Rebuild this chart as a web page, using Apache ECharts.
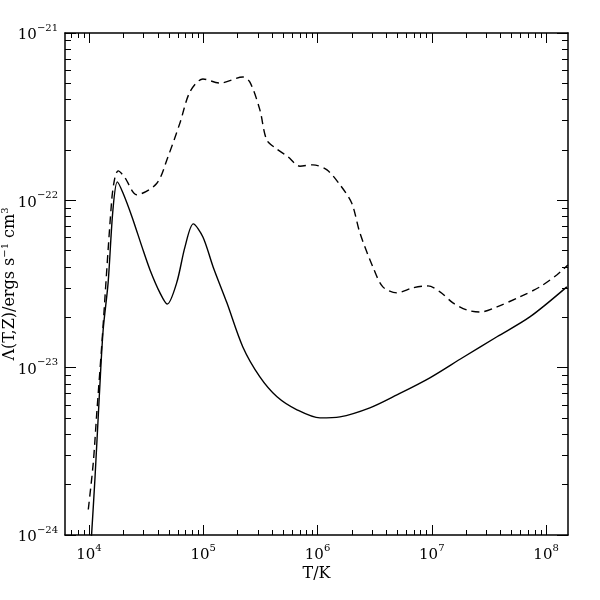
<!DOCTYPE html>
<html>
<head>
<meta charset="utf-8">
<script src="https://cdn.jsdelivr.net/npm/echarts@6/dist/echarts.min.js"></script>
<style>
  html, body { margin: 0; padding: 0; background: #fff; }
  #chart { width: 600px; height: 600px; }
</style>
</head>
<body>
<div id="chart"></div>
<script>
// cooling curve, solid line
var solidT = [1.04e4, 1.13e4, 1.23e4, 1.33e4, 1.47e4, 1.62e4, 1.77e4, 1.98e4, 2.38e4, 2.91e4,
  3.42e4, 4.18e4, 4.84e4, 5.85e4, 6.92e4, 8.18e4, 9.93e4, 1.22e5, 1.61e5, 2.22e5,
  3.13e5, 4.42e5, 6.61e5, 1.05e6, 1.57e6, 2.87e6, 4.95e6, 9.62e6, 1.87e7, 3.72e7,
  7.21e7, 1.52e8];
var solidL = [8.7e-25, 2.23e-24, 6.70e-24, 1.68e-23, 3.21e-23, 8.77e-23, 1.29e-22, 1.11e-22, 7.96e-23, 5.27e-23,
  3.84e-23, 2.80e-23, 2.40e-23, 3.21e-23, 5.27e-23, 7.23e-23, 6.04e-23, 4.00e-23, 2.44e-23, 1.33e-23,
  8.81e-24, 6.70e-24, 5.60e-24, 5.01e-24, 5.08e-24, 5.75e-24, 6.87e-24, 8.69e-24, 1.15e-23, 1.53e-23,
  2.01e-23, 3.04e-23];

// cooling curve, dashed line
var dashT = [9.86e3, 1.09e4, 1.17e4, 1.29e4, 1.58e4, 1.69e4, 1.80e4, 2.07e4, 2.61e4, 3.91e4,
  4.91e4, 6.25e4, 7.66e4, 9.93e4, 1.40e5, 2.22e5, 2.56e5, 3.13e5, 3.59e5, 4.39e5,
  5.51e5, 7.01e5, 9.12e5, 1.21e6, 1.57e6, 1.99e6, 2.35e6, 3.05e6, 3.73e6, 4.95e6,
  6.84e6, 9.25e6, 1.18e7, 1.53e7, 2.03e7, 2.64e7, 3.72e7, 5.90e7, 8.83e7, 1.24e8,
  1.55e8];
var dashL = [1.42e-24, 2.70e-24, 5.37e-24, 1.33e-23, 1.00e-22, 1.38e-22, 1.50e-22, 1.36e-22, 1.08e-22, 1.26e-22,
  1.82e-22, 2.90e-22, 4.46e-22, 5.31e-22, 5.02e-22, 5.46e-22, 5.09e-22, 3.47e-22, 2.30e-22, 2.03e-22,
  1.82e-22, 1.60e-22, 1.63e-22, 1.52e-22, 1.24e-22, 9.64e-23, 6.38e-23, 4.00e-23, 3.04e-23, 2.80e-23,
  3.00e-23, 3.08e-23, 2.84e-23, 2.44e-23, 2.21e-23, 2.15e-23, 2.31e-23, 2.65e-23, 3.04e-23, 3.58e-23,
  4.11e-23];

// axis ranges and ticks
var xRange = [6166, 1.556e8];
var yRange = [1e-24, 1e-21];
var xMajor = [1e4, 1e5, 1e6, 1e7, 1e8];
var yMajor = [1e-24, 1e-23, 1e-22, 1e-21];

// the y values are tiny, so the y axis works in units of 1e-24 (labels still show 10^-24 ... 10^-21)
var Y_UNIT = 1e-24;
var Y_UNIT_EXP = -24;

function minorTicks(decades) {
  var out = [];
  for (var i = 0; i < decades.length; i++) {
    for (var m = 2; m <= 9; m++) out.push(m * decades[i]);
  }
  return out;
}
function toUnit(list) {
  return list.map(function (v) { return v / Y_UNIT; });
}
var xMinor = minorTicks([1e3, 1e4, 1e5, 1e6, 1e7, 1e8]);
var yMinor = minorTicks([1, 10, 100]);

function pairs(xs, ys) {
  var d = [];
  for (var i = 0; i < xs.length; i++) d.push([xs[i], ys[i] / Y_UNIT]);
  return d;
}

var FONT = 'DejaVu Serif';
var rich = {
  b: { fontFamily: FONT, fontSize: 15, color: '#000', lineHeight: 20, verticalAlign: 'bottom' },
  s: { fontFamily: FONT, fontSize: 10, color: '#000', lineHeight: 20, verticalAlign: 'top' }
};
function expLabel(e) {
  var txt = e < 0 ? '\u2212' + (-e) : '' + e;
  return '{b|10}{s|' + txt + '}';
}
function xLabel(v) {
  return expLabel(Math.round(Math.log(v) / Math.LN10));
}
function yLabel(v) {
  return expLabel(Math.round(Math.log(v) / Math.LN10) + Y_UNIT_EXP);
}

function makeAxis(kind, pos, ticks, len, withLabels, withLine) {
  var range = kind === 'x' ? xRange : toUnit(yRange);
  return {
    type: 'log',
    logBase: 10,
    position: pos,
    min: range[0],
    max: range[1],
    nameMoveOverlap: false,
    axisLine: { show: withLine, onZero: false, lineStyle: { color: '#000', width: 1.5 } },
    axisTick: { show: true, inside: true, length: len, customValues: ticks, lineStyle: { color: '#000', width: 1 } },
    axisLabel: withLabels ? {
      show: true, customValues: ticks, formatter: kind === 'x' ? xLabel : yLabel, rich: rich,
      margin: kind === 'x' ? 8 : 7
    } : { show: false },
    splitLine: { show: false },
    minorTick: { show: false }
  };
}

var xAxes = [
  makeAxis('x', 'bottom', xMajor, 10, true, true),
  makeAxis('x', 'bottom', xMinor, 5, false, false),
  makeAxis('x', 'top', xMajor, 10, false, true),
  makeAxis('x', 'top', xMinor, 5, false, false)
];
xAxes[0].name = 'T/K';
xAxes[0].nameLocation = 'middle';
xAxes[0].nameGap = 31;
xAxes[0].nameTextStyle = { fontFamily: FONT, fontSize: 16, color: '#000' };

var yMajorU = toUnit(yMajor);
var yAxes = [
  makeAxis('y', 'left', yMajorU, 11, true, true),
  makeAxis('y', 'left', yMinor, 6, false, false),
  makeAxis('y', 'right', yMajorU, 11, false, true),
  makeAxis('y', 'right', yMinor, 6, false, false)
];
yAxes[0].name = '\u039b(T,Z)/ergs s{s|\u22121} cm{s|3}';
yAxes[0].nameLocation = 'middle';
yAxes[0].nameGap = 45;
yAxes[0].nameTextStyle = {
  fontFamily: FONT, fontSize: 16, color: '#000',
  rich: {
    s: { fontFamily: FONT, fontSize: 10, color: '#000', lineHeight: 20, verticalAlign: 'top' }
  }
};

var chart = echarts.init(document.getElementById('chart'), null, { renderer: 'canvas' });
chart.setOption({
  backgroundColor: '#fff',
  animation: false,
  grid: { left: 65, right: 32, top: 33, bottom: 65, containLabel: false, outerBoundsMode: 'none' },
  xAxis: xAxes,
  yAxis: yAxes,
  series: [
    {
      name: 'solid',
      type: 'line',
      xAxisIndex: 0,
      yAxisIndex: 0,
      data: pairs(solidT, solidL),
      showSymbol: false,
      smooth: 0.3,
      clip: true,
      lineStyle: { color: '#000', width: 1.4, type: 'solid' }
    },
    {
      name: 'dashed',
      type: 'line',
      xAxisIndex: 0,
      yAxisIndex: 0,
      data: pairs(dashT, dashL),
      showSymbol: false,
      smooth: 0.3,
      clip: true,
      lineStyle: { color: '#000', width: 1.4, type: [8, 5] }
    }
  ]
});
</script>
</body>
</html>
